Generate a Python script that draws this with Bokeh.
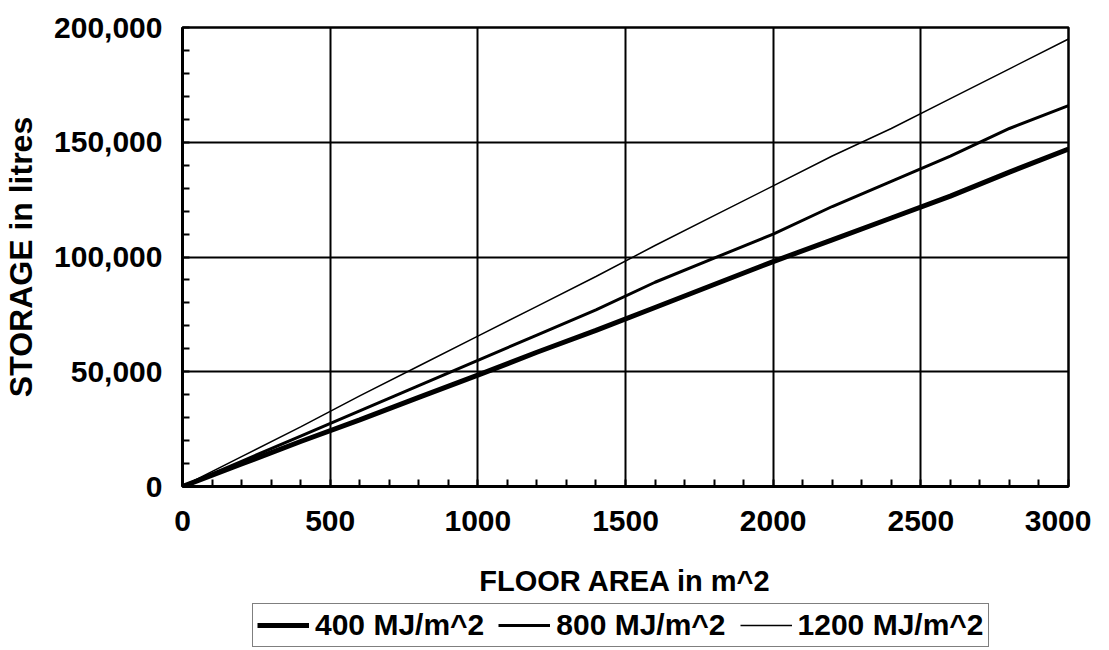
from bokeh.plotting import figure
from bokeh.layouts import column
from bokeh.models import Range1d, NumeralTickFormatter, FixedTicker, Legend, LegendItem, Label
from bokeh.embed import file_html
from bokeh.resources import INLINE

# Data
floor_area = [0, 200, 400, 600, 800, 1000, 1200, 1400, 1600, 1800, 2000, 2200, 2400, 2600, 2800, 3000]
storage_400 = [0, 9800, 19600, 29000, 38800, 48500, 58500, 68000, 78000, 88000, 98000, 107500, 117000, 126500, 137000, 147000]
storage_800 = [0, 11000, 22000, 33000, 44000, 55000, 66000, 77000, 89000, 99500, 110000, 122000, 133000, 144000, 156000, 166000]
storage_1200 = [0, 13000, 26000, 39500, 52500, 65500, 78500, 91500, 105000, 118000, 131000, 144000, 156000, 169000, 182000, 195000]
series_labels = ["400 MJ/m^2", "800 MJ/m^2", "1200 MJ/m^2"]
series_widths = [5, 3, 1.5]
x_ticks = [0, 500, 1000, 1500, 2000, 2500, 3000]
y_ticks = [0, 50000, 100000, 150000, 200000]
x_title = "FLOOR AREA in m^2"
y_title = "STORAGE in litres"

FONT = "Liberation Sans"

p = figure(width=1091, height=556, output_backend="svg", toolbar_location=None,
           x_range=Range1d(0, 3000), y_range=Range1d(0, 200000),
           min_border_left=182, min_border_right=23, min_border_top=27, min_border_bottom=70)

p.outline_line_color = "black"
p.outline_line_width = 2.5

for ax in (p.xaxis[0], p.yaxis[0]):
    ax.axis_line_width = 3
    ax.axis_line_color = "black"
    ax.major_tick_in = 0
    ax.major_tick_out = 0
    ax.minor_tick_in = 7
    ax.minor_tick_out = 0
    ax.minor_tick_line_width = 2
    ax.minor_tick_line_color = "black"
    ax.major_label_text_font = FONT
    ax.major_label_text_font_style = "bold"
    ax.major_label_text_font_size = "30px"
    ax.major_label_text_color = "black"
    ax.axis_label_text_font = FONT
    ax.axis_label_text_font_style = "bold"
    ax.axis_label_text_color = "black"

p.xaxis[0].ticker = FixedTicker(ticks=x_ticks, minor_ticks=list(range(0, 3001, 100)))
p.yaxis[0].ticker = FixedTicker(ticks=y_ticks, minor_ticks=list(range(0, 200001, 10000)))
p.yaxis[0].formatter = NumeralTickFormatter(format="0,0")
p.yaxis[0].axis_label = y_title
p.yaxis[0].axis_label_text_font_size = "32px"
p.xaxis[0].major_label_standoff = 24
p.yaxis[0].major_label_standoff = 20
p.yaxis[0].axis_label_standoff = 12

p.xgrid.grid_line_color = "black"
p.ygrid.grid_line_color = "black"
p.xgrid.grid_line_width = 2
p.ygrid.grid_line_width = 2
p.xgrid.grid_line_alpha = 1
p.ygrid.grid_line_alpha = 1

p.line(floor_area, storage_400, line_color="black", line_width=series_widths[0])
p.line(floor_area, storage_800, line_color="black", line_width=series_widths[1])
p.line(floor_area, storage_1200, line_color="black", line_width=series_widths[2])

# Lower strip: x-axis title and legend (frame is aligned with the main plot frame)
p2 = figure(width=1091, height=94, output_backend="svg", toolbar_location=None,
            x_range=Range1d(-2, -1), y_range=Range1d(-2, -1),
            x_axis_location=None, y_axis_location=None,
            min_border_left=0, min_border_right=0, min_border_top=0, min_border_bottom=0)
p2.outline_line_color = None
p2.grid.visible = False

title_label = Label(x=443, y=70, x_units="screen", y_units="screen", text=x_title,
                    text_align="center", text_baseline="alphabetic",
                    text_font=FONT, text_font_style="bold", text_font_size="29px",
                    text_color="black")
p2.add_layout(title_label)

series_values = [storage_400, storage_800, storage_1200]
items = []
for lab, w, vals in zip(series_labels, series_widths, series_values):
    # same series, outside this strip's ranges: only its legend swatch shows
    r = p2.line(floor_area, vals, line_color="black", line_width=w)
    items.append(LegendItem(label=lab, renderers=[r]))

legend = Legend(items=items, orientation="horizontal", location=(70, 3))
legend.label_text_font = FONT
legend.label_text_font_style = "bold"
legend.label_text_font_size = "30px"
legend.label_text_color = "black"
legend.border_line_color = "black"
legend.border_line_width = 1.5
legend.glyph_width = 52
legend.glyph_height = 30
legend.label_height = 30
legend.label_standoff = 6
legend.spacing = 14
legend.padding = 4
legend.margin = 0
legend.background_fill_alpha = 1
p2.add_layout(legend, "center")

layout = column(p, p2, spacing=0)
open("out.html", "w").write(file_html(layout, INLINE))
